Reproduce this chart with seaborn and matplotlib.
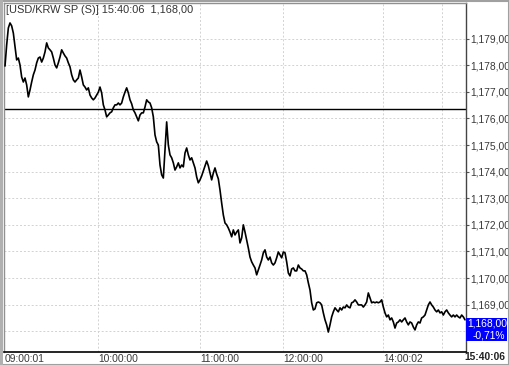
import numpy as np
import pandas as pd
import matplotlib
matplotlib.use("Agg")
import matplotlib.pyplot as plt
from matplotlib.patches import Rectangle
import seaborn as sns

# ---------------- data ----------------
prices = [
    1177.97, 1178.76, 1179.40, 1179.59, 1179.48, 1179.21, 1178.69, 1178.20, 1178.27, 1178.01,
    1177.56, 1177.37, 1177.52, 1177.26, 1176.81, 1177.07, 1177.37, 1177.64, 1177.82, 1178.09,
    1178.27, 1178.31, 1178.12, 1178.27, 1178.50, 1178.84, 1178.65, 1178.58, 1178.50, 1178.27,
    1178.01, 1177.90, 1178.09, 1178.31, 1178.58, 1178.46, 1178.35, 1178.27, 1178.09, 1177.94,
    1177.64, 1177.45, 1177.37, 1177.45, 1177.52, 1177.82, 1177.56, 1177.26, 1177.18, 1177.07,
    1177.15, 1176.88, 1176.77, 1176.70, 1176.77, 1176.88, 1176.99, 1177.18, 1176.96, 1176.51,
    1176.32, 1176.06, 1176.13, 1176.21, 1176.25, 1176.40, 1176.51, 1176.51, 1176.58, 1176.51,
    1176.58, 1176.81, 1176.99, 1177.15, 1176.96, 1176.70, 1176.55, 1176.32, 1176.21, 1176.06,
    1175.91, 1176.13, 1176.21, 1176.21, 1176.43, 1176.70, 1176.62, 1176.58, 1176.40, 1176.06,
    1175.38, 1175.12, 1175.00, 1174.25, 1173.88, 1173.76, 1174.82, 1175.87, 1175.00, 1174.63,
    1174.52, 1174.33, 1174.06, 1174.18, 1174.33, 1174.14, 1174.25, 1174.18, 1174.70, 1174.89,
    1174.63, 1174.44, 1174.52, 1174.33, 1174.14, 1173.80, 1173.58, 1173.69, 1173.84, 1174.03,
    1174.22, 1174.40, 1174.22, 1173.95, 1173.69, 1173.95, 1174.14, 1173.91, 1173.73, 1173.31,
    1172.82, 1172.37, 1172.07, 1172.00, 1171.88, 1171.73, 1171.55, 1171.81, 1171.62, 1171.73,
    1171.81, 1171.32, 1171.51, 1172.00, 1171.73, 1171.43, 1171.13, 1170.79, 1170.61, 1170.49,
    1170.38, 1170.12, 1170.30, 1170.49, 1170.68, 1170.95, 1171.06, 1170.79, 1170.68, 1170.79,
    1170.57, 1170.49, 1170.57, 1170.76, 1170.98, 1170.87, 1170.76, 1170.98, 1170.95, 1170.61,
    1170.19, 1170.08, 1170.34, 1170.38, 1170.27, 1170.27, 1170.49, 1170.38, 1170.34, 1170.27,
    1170.27, 1170.12, 1169.82, 1169.55, 1169.07, 1168.80, 1168.84, 1169.07, 1169.10, 1169.07,
    1168.99, 1168.69, 1168.43, 1168.24, 1167.97, 1168.24, 1168.54, 1168.73, 1168.88, 1168.80,
    1168.73, 1168.88, 1168.80, 1168.91, 1168.88, 1168.99, 1168.91, 1168.88, 1169.07, 1169.10,
    1169.18, 1169.10, 1168.99, 1168.99, 1168.99, 1168.91, 1168.99, 1169.10, 1169.44, 1169.25,
    1169.07, 1169.10, 1169.07, 1169.10, 1169.07, 1169.10, 1169.18, 1168.91, 1168.69, 1168.54,
    1168.61, 1168.43, 1168.50, 1168.35, 1168.12, 1168.31, 1168.35, 1168.43, 1168.35, 1168.43,
    1168.50, 1168.35, 1168.24, 1168.35, 1168.31, 1168.16, 1168.05, 1168.24, 1168.35, 1168.31,
    1168.50, 1168.54, 1168.61, 1168.80, 1168.99, 1169.10, 1168.99, 1168.91, 1168.80, 1168.73,
    1168.80, 1168.69, 1168.73, 1168.61, 1168.73, 1168.80, 1168.69, 1168.61, 1168.54, 1168.61,
    1168.54, 1168.61, 1168.54, 1168.50, 1168.61, 1168.54, 1168.43,
]
prev_close = 1176.35
last_price_text = "1,168,00"
change_text = "-0,71%"
title_text = "[USD/KRW SP (S)] 15:40:06  1,168,00"

time_tick_idx = [0, 56, 117, 167, 227]
time_tick_labels = ["09:00:01", "10:00:00", "11:00:00", "12:00:00", "14:00:02"]
grid_idx = [56, 117, 167, 227, 262]
last_time_label = "15:40:06"
y_ticks = [1169, 1170, 1171, 1172, 1173, 1174, 1175, 1176, 1177, 1178, 1179]
y_grid = [1168] + y_ticks

df = pd.DataFrame({"tick": np.arange(len(prices)), "price": prices})

# ---------------- figure ----------------
sns.set_style("white")
plt.rcParams["font.family"] = ["Liberation Sans", "DejaVu Sans"]

W, H = 509, 365
fig = plt.figure(figsize=(W / 100, H / 100), dpi=100)
fig.patch.set_facecolor("white")
ax = fig.add_axes([4 / W, 13 / H, 462 / W, 349 / H])
ax.set_facecolor("white")

for g in y_grid:
    ax.axhline(g, color="#d2d2d2", lw=0.7, ls=(0, (2, 2)), zorder=0)
for g in grid_idx:
    ax.axvline(g, color="#d2d2d2", lw=0.7, ls=(0, (2, 2)), zorder=0)

ax.axhline(prev_close, color="black", lw=1.0, zorder=2)

sns.lineplot(data=df, x="tick", y="price", ax=ax, color="black", lw=1.2,
             zorder=3, legend=False)

ax.set_xlim(-0.6, 276.6)
ax.set_ylim(1167.22, 1180.34)
ax.set_xlabel("")
ax.set_ylabel("")

ax.yaxis.tick_right()
ax.set_yticks(y_ticks)
ax.set_yticklabels(["1,{:03d},00".format(v - 1000) for v in y_ticks])
ax.tick_params(axis="y", direction="out", length=2, width=0.8, color="#555555",
               labelsize=7.4, labelcolor="#3a3a3a", pad=1)
ax.set_xticks([])

for s in ["left", "top"]:
    ax.spines[s].set_color("#909090")
    ax.spines[s].set_linewidth(1.0)
ax.spines["right"].set_color("#444444")
ax.spines["right"].set_linewidth(1.0)
ax.spines["bottom"].set_color("black")
ax.spines["bottom"].set_linewidth(1.2)

# time labels under the axis
for idx, lab in zip(time_tick_idx, time_tick_labels):
    ax.annotate(lab, xy=(idx, 0), xycoords=("data", "axes fraction"),
                xytext=(0, -5), textcoords="offset points", ha="left", va="center",
                fontsize=7.4, color="#3a3a3a", annotation_clip=False)
fig.text(505 / W, 1 - 357 / H, last_time_label, ha="right", va="center",
         fontsize=7.4, fontweight="bold", color="#222222")

# title
fig.text(6 / W, 1 - 10 / H, title_text, ha="left", va="center",
         fontsize=7.9, color="#333333")

# current price box
fig.patches.append(Rectangle((466 / W, 1 - 341 / H), 41 / W, 23 / H,
                             transform=fig.transFigure, facecolor="#0000ff",
                             edgecolor="none", zorder=5))
fig.text(467 / W, 1 - 324 / H, last_price_text, ha="left", va="center",
         fontsize=7.4, color="white", zorder=6)
fig.text(505 / W, 1 - 335 / H, change_text, ha="right", va="center",
         fontsize=7.4, color="white", zorder=6)

# window-like frame
fig.patches.append(Rectangle((0.5 / W, 0.5 / H), (W - 1) / W, (H - 1) / H,
                             transform=fig.transFigure, facecolor="none",
                             edgecolor="#a0a0a0", lw=1.5, zorder=10))
fig.patches.append(Rectangle((0, 0), 3 / W, 1, transform=fig.transFigure,
                             facecolor="#b0b0b0", edgecolor="none", zorder=10))

fig.savefig("out.png", dpi=100)
